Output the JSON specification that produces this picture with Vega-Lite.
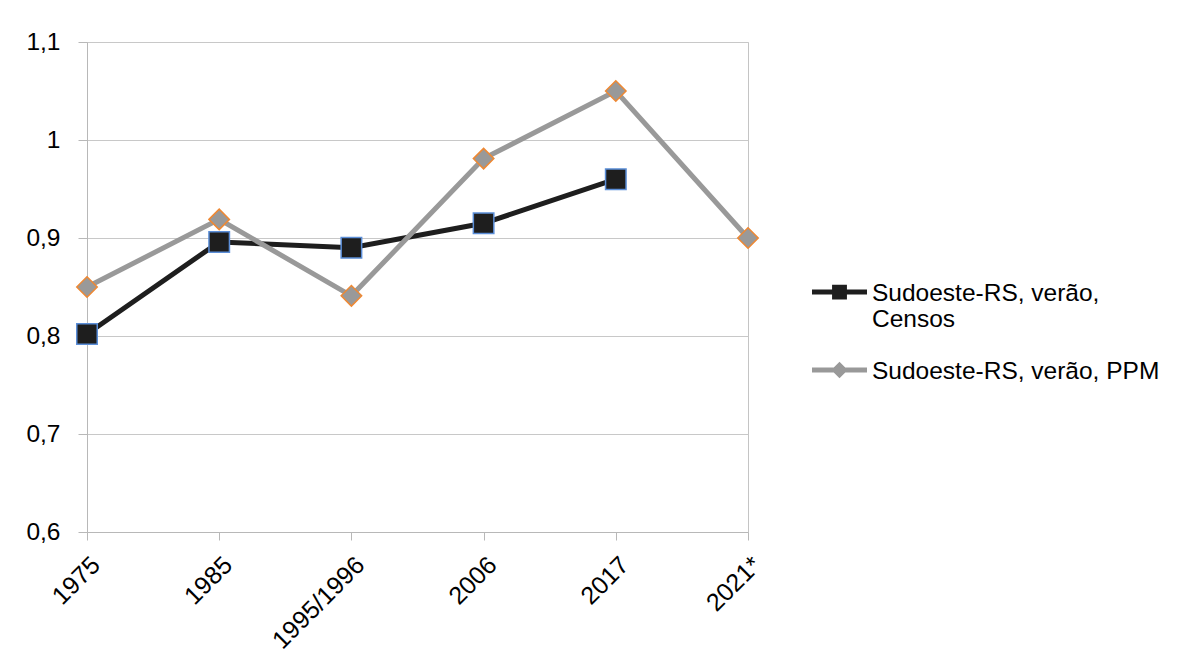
{
  "$schema": "https://vega.github.io/schema/vega-lite/v6.json",
  "autosize": "none",
  "width": 661,
  "height": 490,
  "padding": {"left": 87, "top": 42, "right": 450, "bottom": 139},
  "background": "white",
  "config": {
    "font": "Liberation Sans",
    "view": {"stroke": "#c4c4c4", "strokeWidth": 1},
    "axis": {
      "labelFont": "Liberation Sans",
      "labelFontSize": 24.5,
      "labelColor": "#000000",
      "domainColor": "#b8b8b8",
      "tickColor": "#b8b8b8",
      "gridColor": "#c8c8c8",
      "title": null
    },
    "legend": {"labelFont": "Liberation Sans", "labelFontSize": 24.5, "labelColor": "#000000"}
  },
  "data": {
    "values": [
      {"ano": "1975", "serie": "Sudoeste-RS, verão, Censos", "v": 0.802},
      {"ano": "1985", "serie": "Sudoeste-RS, verão, Censos", "v": 0.896},
      {"ano": "1995/1996", "serie": "Sudoeste-RS, verão, Censos", "v": 0.890},
      {"ano": "2006", "serie": "Sudoeste-RS, verão, Censos", "v": 0.915},
      {"ano": "2017", "serie": "Sudoeste-RS, verão, Censos", "v": 0.960},
      {"ano": "1975", "serie": "Sudoeste-RS, verão, PPM", "v": 0.850},
      {"ano": "1985", "serie": "Sudoeste-RS, verão, PPM", "v": 0.919},
      {"ano": "1995/1996", "serie": "Sudoeste-RS, verão, PPM", "v": 0.841},
      {"ano": "2006", "serie": "Sudoeste-RS, verão, PPM", "v": 0.981},
      {"ano": "2017", "serie": "Sudoeste-RS, verão, PPM", "v": 1.050},
      {"ano": "2021*", "serie": "Sudoeste-RS, verão, PPM", "v": 0.900}
    ]
  },
  "encoding": {
    "x": {
      "field": "ano",
      "type": "ordinal",
      "sort": null,
      "scale": {"type": "point", "padding": 0, "domain": ["1975", "1985", "1995/1996", "2006", "2017", "2021*"]},
      "axis": {"labelAngle": -45, "tickSize": 8, "labelPadding": 12, "labelFontSize": 25, "grid": false}
    },
    "y": {
      "field": "v",
      "type": "quantitative",
      "scale": {"domain": [0.6, 1.1], "nice": false, "zero": false},
      "axis": {
        "values": [0.6, 0.7, 0.8, 0.9, 1.0, 1.1],
        "tickSize": 9,
        "labelPadding": 18,
        "grid": true,
        "labelExpr": "replace(format(datum.value, '.1~f'), '.', ',')"
      }
    }
  },
  "layer": [
    {
      "transform": [{"filter": "datum.serie == 'Sudoeste-RS, verão, Censos'"}],
      "mark": {"type": "line", "color": "#1e1e1e", "strokeWidth": 5}
    },
    {
      "transform": [{"filter": "datum.serie == 'Sudoeste-RS, verão, PPM'"}],
      "mark": {"type": "line", "color": "#999999", "strokeWidth": 5}
    },
    {
      "transform": [{"filter": "datum.serie == 'Sudoeste-RS, verão, Censos'"}],
      "mark": {"type": "point", "shape": "square", "size": 420, "filled": true, "fill": "#1e1e1e", "stroke": "#5b8ed8", "strokeWidth": 1.5, "opacity": 1}
    },
    {
      "transform": [{"filter": "datum.serie == 'Sudoeste-RS, verão, PPM'"}],
      "mark": {"type": "point", "shape": "diamond", "size": 420, "filled": true, "fill": "#999999", "stroke": "#ee8833", "strokeWidth": 1.5, "opacity": 1}
    },
    {
      "transform": [{"filter": "datum.v > 5"}],
      "mark": {"type": "point", "filled": true, "size": 3025, "opacity": 1},
      "encoding": {
        "x": {"value": 0},
        "y": {"value": 0},
        "shape": {
          "field": "serie",
          "type": "nominal",
          "scale": {
            "domain": ["Sudoeste-RS, verão, Censos", "Sudoeste-RS, verão, PPM"],
            "range": [
              "M-1,0.295H1V0.475H-1Z M-0.27,0.115H0.27V0.655H-0.27Z",
              "M-1,0.295H1V0.475H-1Z M0,0.085L0.3,0.385L0,0.685L-0.3,0.385Z"
            ]
          },
          "legend": null
        },
        "color": {
          "field": "serie",
          "type": "nominal",
          "scale": {
            "domain": ["Sudoeste-RS, verão, Censos", "Sudoeste-RS, verão, PPM"],
            "range": ["#1e1e1e", "#999999"]
          },
          "legend": {
            "title": null,
            "orient": "none",
            "legendX": 725,
            "legendY": 212,
            "symbolSize": 3025,
            "symbolStrokeWidth": 0,
            "labelOffset": 5,
            "rowPadding": -2,
            "padding": 0,
            "labelLimit": 400,
            "labelBaseline": "top",
            "labelExpr": "datum.label == 'Sudoeste-RS, verão, Censos' ? ['Sudoeste-RS, verão,', 'Censos'] : datum.label"
          }
        }
      }
    }
  ]
}
